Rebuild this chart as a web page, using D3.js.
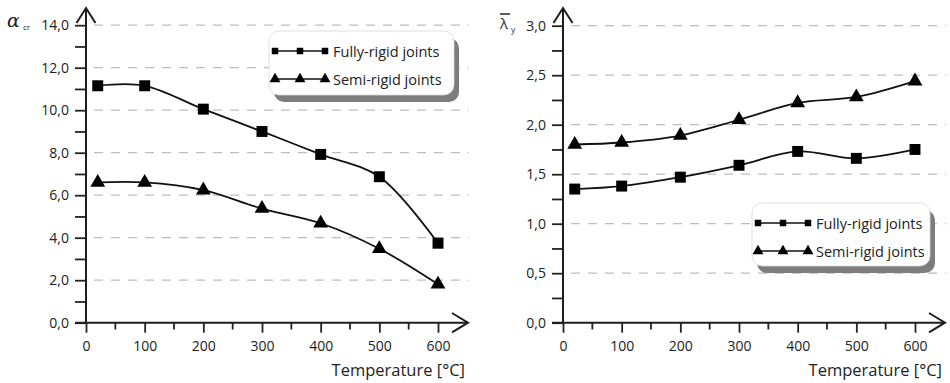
<!DOCTYPE html>
<html>
<head>
<meta charset="utf-8">
<script src="https://cdn.jsdelivr.net/npm/d3@7"></script>
<style>
  body { margin: 0; background: #fff; }
  svg { display: block; font-family: "Open Sans", sans-serif; }
</style>
</head>
<body>
<svg id="chart" width="950" height="383"></svg>
<script>
// data
var temps = [20, 100, 200, 300, 400, 500, 600];
var alphaFully = [11.15, 11.15, 10.05, 9.0, 7.92, 6.87, 3.74];
var alphaSemi = [6.6, 6.6, 6.24, 5.37, 4.68, 3.48, 1.81];
var lambdaFully = [1.35, 1.38, 1.47, 1.59, 1.73, 1.66, 1.75];
var lambdaSemi = [1.80, 1.82, 1.89, 2.05, 2.22, 2.28, 2.44];
var tempTicks = [0, 100, 200, 300, 400, 500, 600];
var tempMinor = [50, 150, 250, 350, 450, 550];
var alphaTicks = [0, 2, 4, 6, 8, 10, 12, 14];
var lambdaTicks = [0, 0.5, 1, 1.5, 2, 2.5, 3];
var seriesNames = ["Fully-rigid joints", "Semi-rigid joints"];

var svg = d3.select("#chart");
var fmt = function (d) { return d.toFixed(1).replace(".", ","); };

function drawPanel(cfg) {
    var g = svg.append("g");
    var x = d3.scaleLinear().domain([0, 600]).range([cfg.x0, cfg.x0 + 352]);
    var y = d3.scaleLinear().domain([0, cfg.ymax]).range([322.7, cfg.ytop]);

    // dashed gridlines
    g.selectAll(".grid").data(cfg.ticks.slice(1)).enter().append("line")
        .attr("x1", cfg.x0 + 8).attr("x2", cfg.x0 + 383)
        .attr("y1", function (d) { return y(d); }).attr("y2", function (d) { return y(d); })
        .attr("stroke", "#bdbdbd").attr("stroke-width", 1.3)
        .attr("stroke-dasharray", "9,8");

    // y axis ticks (major + minor), labels only on major
    var yAll = cfg.ticks.concat(cfg.minor);
    var yAxis = d3.axisLeft(y).tickValues(yAll).tickSize(11).tickPadding(6)
        .tickFormat(function (d) { return cfg.ticks.indexOf(d) >= 0 ? fmt(d) : ""; });
    var ya = g.append("g").attr("transform", "translate(" + cfg.x0 + ",0)").call(yAxis);
    ya.select(".domain").remove();
    ya.selectAll("line").attr("stroke", "#222").attr("stroke-width", 1.8);
    ya.selectAll("text").attr("font-size", 14).attr("fill", "#222")
        .attr("font-family", "'Open Sans', sans-serif");

    // x axis ticks
    var xAxis = d3.axisBottom(x).tickValues(tempTicks).tickSize(10).tickPadding(8)
        .tickFormat(d3.format("d"));
    var xa = g.append("g").attr("transform", "translate(0,322.7)").call(xAxis);
    xa.select(".domain").remove();
    xa.selectAll("line").attr("stroke", "#222").attr("stroke-width", 1.8);
    xa.selectAll("text").attr("font-size", 14).attr("fill", "#222")
        .attr("font-family", "'Open Sans', sans-serif");
    g.selectAll(".xminor").data(tempMinor).enter().append("line")
        .attr("x1", function (d) { return x(d); }).attr("x2", function (d) { return x(d); })
        .attr("y1", 322.7).attr("y2", 329.5)
        .attr("stroke", "#222").attr("stroke-width", 1.8);

    // axis lines with open arrow heads
    var ax = "#1e1e1e";
    g.append("line").attr("x1", cfg.x0).attr("x2", cfg.x0).attr("y1", 323.5).attr("y2", 8)
        .attr("stroke", ax).attr("stroke-width", 2);
    g.append("path").attr("d", "M" + (cfg.x0 - 9.5) + ",23L" + cfg.x0 + ",8L" + (cfg.x0 + 9.5) + ",23")
        .attr("fill", "none").attr("stroke", ax).attr("stroke-width", 2);
    var xe = cfg.x0 + 382;
    g.append("line").attr("x1", cfg.x0 - 11).attr("x2", xe).attr("y1", 322.7).attr("y2", 322.7)
        .attr("stroke", ax).attr("stroke-width", 2);
    g.append("path").attr("d", "M" + (xe - 16) + ",313L" + xe + ",322.7L" + (xe - 16) + ",332.4")
        .attr("fill", "none").attr("stroke", ax).attr("stroke-width", 2);

    g.append("text").attr("x", cfg.x0 + 379).attr("y", 376).attr("text-anchor", "end")
        .attr("font-size", 16.5).attr("fill", "#222").text("Temperature [°C]");

    // smoothed series lines
    var line = d3.line()
        .x(function (d) { return x(d[0]); })
        .y(function (d) { return y(d[1]); })
        .curve(d3.curveCatmullRom.alpha(0.5));
    [cfg.fully, cfg.semi].forEach(function (vals) {
        g.append("path").datum(d3.zip(temps, vals)).attr("d", line)
            .attr("fill", "none").attr("stroke", "#111").attr("stroke-width", 1.8);
    });

    var sq = d3.symbol().type(d3.symbolSquare).size(120);
    var tri = d3.symbol().type(d3.symbolTriangle).size(95);
    g.selectAll(".sq").data(d3.zip(temps, cfg.fully)).enter().append("path")
        .attr("d", sq)
        .attr("transform", function (d) { return "translate(" + x(d[0]) + "," + y(d[1]) + ")"; })
        .attr("fill", "#000");
    g.selectAll(".tri").data(d3.zip(temps, cfg.semi)).enter().append("path")
        .attr("d", tri)
        .attr("transform", function (d) { return "translate(" + x(d[0]) + "," + y(d[1]) + ")"; })
        .attr("fill", "#000");

    // legend with grey drop shadow
    var L = cfg.legend;
    var lg = g.append("g").attr("transform", "translate(" + L.x + "," + L.y + ")");
    lg.append("rect").attr("x", 5).attr("y", 7).attr("width", L.w).attr("height", L.h)
        .attr("rx", 10).attr("fill", "#7d7d7d");
    lg.append("rect").attr("x", 0).attr("y", 0).attr("width", L.w).attr("height", L.h)
        .attr("rx", 10).attr("fill", "#fff").attr("stroke", "#d8d8d8").attr("stroke-width", 0.8);
    seriesNames.forEach(function (name, i) {
        var ly = 20 + i * 28;
        lg.append("line").attr("x1", 6).attr("x2", 56).attr("y1", ly).attr("y2", ly)
            .attr("stroke", "#111").attr("stroke-width", 1.3);
        [6, 31, 56].forEach(function (mx) {
            lg.append("path").attr("d", i === 0 ? d3.symbol().type(d3.symbolSquare).size(42)()
                    : d3.symbol().type(d3.symbolTriangle).size(52)())
                .attr("transform", "translate(" + mx + "," + ly + ")").attr("fill", "#000");
        });
        lg.append("text").attr("x", 64).attr("y", ly + 5.5).attr("font-size", 14.5)
            .attr("fill", "#222").text(name);
    });
    return g;
}

drawPanel({
    x0: 86, ymax: 14, ytop: 25.2,
    ticks: alphaTicks, minor: [1, 3, 5, 7, 9, 11, 13],
    fully: alphaFully, semi: alphaSemi,
    legend: { x: 269, y: 31, w: 185, h: 64 }
});
drawPanel({
    x0: 563, ymax: 3, ytop: 25.7,
    ticks: lambdaTicks, minor: [0.25, 0.75, 1.25, 1.75, 2.25, 2.75],
    fully: lambdaFully, semi: lambdaSemi,
    legend: { x: 752, y: 203, w: 178, h: 63 }
});

// y axis titles
svg.append("text").attr("x", 7).attr("y", 27)
    .attr("font-family", "'DejaVu Serif', serif").attr("font-style", "italic")
    .attr("font-size", 19).attr("fill", "#222").text("α");
svg.append("text").attr("x", 23).attr("y", 30).attr("font-size", 8).attr("fill", "#222").text("cr");

svg.append("text").attr("x", 500).attr("y", 29).attr("font-size", 15)
    .attr("fill", "#333").text("λ");
svg.append("line").attr("x1", 500).attr("x2", 510).attr("y1", 14).attr("y2", 14)
    .attr("stroke", "#333").attr("stroke-width", 1.6);
svg.append("text").attr("x", 511).attr("y", 33).attr("font-size", 8.5).attr("fill", "#333").text("y");
</script>
</body>
</html>
